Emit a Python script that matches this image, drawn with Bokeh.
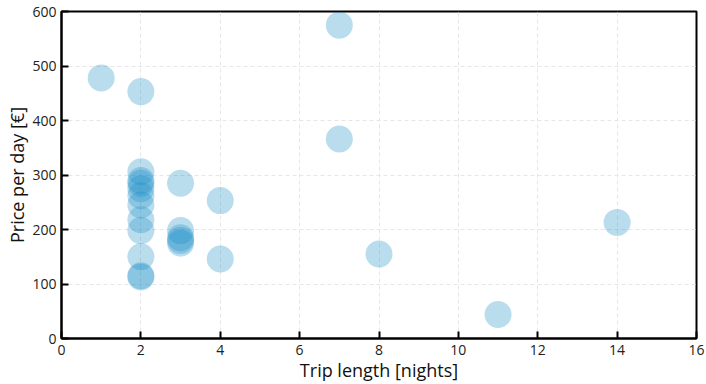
from bokeh.plotting import figure
from bokeh.models import Range1d, FixedTicker
from bokeh.embed import file_html
from bokeh.resources import INLINE

nights = [1, 2, 2, 2, 2, 2, 2, 2, 2, 2, 2, 2, 2, 3, 3, 3, 3, 3, 4, 4, 7, 7, 8, 11, 14]
price = [478, 453, 306, 290, 285, 275, 262, 245, 218, 198, 150, 115, 113,
         285, 198, 185, 180, 175, 253, 146, 575, 366, 155, 44, 213]
x_ticks = [0, 2, 4, 6, 8, 10, 12, 14, 16]
y_ticks = [0, 100, 200, 300, 400, 500, 600]

FONT = "Open Sans"

p = figure(width=706, height=384, output_backend="svg", toolbar_location=None,
           x_range=Range1d(0, 16), y_range=Range1d(0, 600),
           min_border_left=61, min_border_right=10, min_border_top=11, min_border_bottom=46)

p.scatter(nights, price, size=27, fill_color="#1a90c8", fill_alpha=0.3, line_color=None)

p.outline_line_color = "black"
p.outline_line_width = 2
p.outline_line_alpha = 1

for ax, ticks in ((p.xaxis, x_ticks), (p.yaxis, y_ticks)):
    ax.ticker = FixedTicker(ticks=ticks)
    ax.axis_line_color = "black"
    ax.axis_line_width = 2
    ax.major_tick_in = 7
    ax.major_tick_out = 0
    ax.major_tick_line_color = "black"
    ax.major_tick_line_width = 2
    ax.minor_tick_line_color = None
    ax.major_label_text_font = FONT
    ax.major_label_text_font_size = "14px"
    ax.major_label_text_color = "#222222"
    ax.axis_label_text_font = FONT
    ax.axis_label_text_font_size = "18px"
    ax.axis_label_text_font_style = "normal"
    ax.axis_label_text_color = "#111111"

p.xaxis.axis_label = "Trip length [nights]"
p.yaxis.axis_label = "Price per day [€]"
p.xaxis.major_label_standoff = 6
p.yaxis.major_label_standoff = 5
p.xaxis.axis_label_standoff = 0
p.yaxis.axis_label_standoff = 0

for g in (p.xgrid, p.ygrid):
    g.grid_line_color = "#e6e6e6"
    g.grid_line_dash = "4 3"
    g.grid_line_width = 1

p.background_fill_color = "white"
p.border_fill_color = "white"

open("out.html", "w").write(file_html(p, INLINE))
